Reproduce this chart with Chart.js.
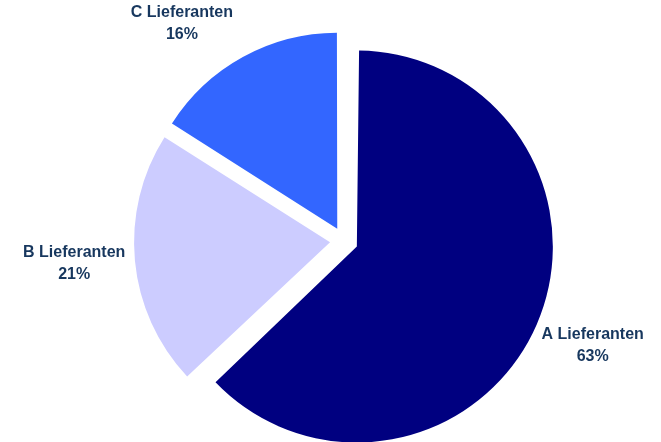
<!DOCTYPE html>
<html>
<head>
<meta charset="utf-8">
<script src="https://cdn.jsdelivr.net/npm/chart.js@4/dist/chart.umd.min.js"></script>
<style>
  html, body { margin: 0; padding: 0; background: #ffffff; }
  #wrap { width: 661px; height: 442px; }
</style>
</head>
<body>
<div id="wrap"><canvas id="pieChart" width="661" height="442"></canvas></div>
<script>
const categories = ["A Lieferanten", "B Lieferanten", "C Lieferanten"];
const shares = [63, 21, 16];
const sliceColors = ["#000080", "#CCCCFF", "#3366FF"];

const sliceOffset = 56; // Chart.js moves a slice by offset / 4
const labelDistance = 61; // gap between pie edge and label centre
const labelLift = 3; // labels sit a little above the radial point
const labelColor = "#17375E";
const labelFont = "bold 16px 'Liberation Sans', Arial, sans-serif";
const lineHeight = 22;

// keep every slice at the same radius (Chart.js grows big slices with the offset)
const evenRadius = {
  id: "evenRadius",
  beforeDatasetDraw(chart, args) {
    const meta = args.meta;
    const base = meta.controller.outerRadius;
    meta.data.forEach((arc) => {
      const circ = arc.endAngle - arc.startAngle;
      const fix = 1 - Math.sin(Math.min(Math.PI, circ));
      arc.outerRadius = base - (sliceOffset / 4) * fix;
    });
  },
};

// outside labels, pushed back inside the canvas when they would stick out
const outsideLabels = {
  id: "outsideLabels",
  afterDatasetsDraw(chart) {
    const ctx = chart.ctx;
    const meta = chart.getDatasetMeta(0);
    const total = shares.reduce((a, b) => a + b, 0);
    const radius = meta.controller.outerRadius;
    ctx.save();
    ctx.font = labelFont;
    ctx.fillStyle = labelColor;
    ctx.textAlign = "center";
    ctx.textBaseline = "middle";
    meta.data.forEach((arc, i) => {
      const half = (arc.startAngle + arc.endAngle) / 2;
      const cx = arc.x + Math.cos(half) * sliceOffset / 4;
      const cy = arc.y + Math.sin(half) * sliceOffset / 4;
      const dist = radius + labelDistance;
      let angle = half;
      let ly = cy + Math.sin(angle) * dist - labelLift;
      const minY = lineHeight + 2;
      const maxY = chart.height - lineHeight - 2;
      if (ly < minY || ly > maxY) {
        const target = ly < minY ? minY : maxY;
        const s = (target - cy) / dist;
        const side = Math.cos(half) < 0 ? -1 : 1;
        angle = Math.atan2(s, side * Math.sqrt(1 - s * s));
        ly = target;
      }
      const lx = cx + Math.cos(angle) * dist;
      const pct = Math.round((shares[i] / total) * 100) + "%";
      ctx.fillText(categories[i], lx, ly - lineHeight / 2);
      ctx.fillText(pct, lx, ly + lineHeight / 2);
    });
    ctx.restore();
  },
};

const pieCtx = document.getElementById("pieChart").getContext("2d");
const pieChart = new Chart(pieCtx, {
  type: "pie",
  data: {
    labels: categories,
    datasets: [
      {
        data: shares,
        backgroundColor: sliceColors,
        borderWidth: 0,
        offset: sliceOffset,
      },
    ],
  },
  options: {
    responsive: false,
    animation: false,
    devicePixelRatio: 1,
    radius: 196,
    layout: {
      padding: { left: 27, right: 0, top: 40, bottom: 0 },
    },
    plugins: {
      legend: { display: false },
      tooltip: { enabled: false },
    },
  },
  plugins: [evenRadius, outsideLabels],
});
</script>
</body>
</html>
